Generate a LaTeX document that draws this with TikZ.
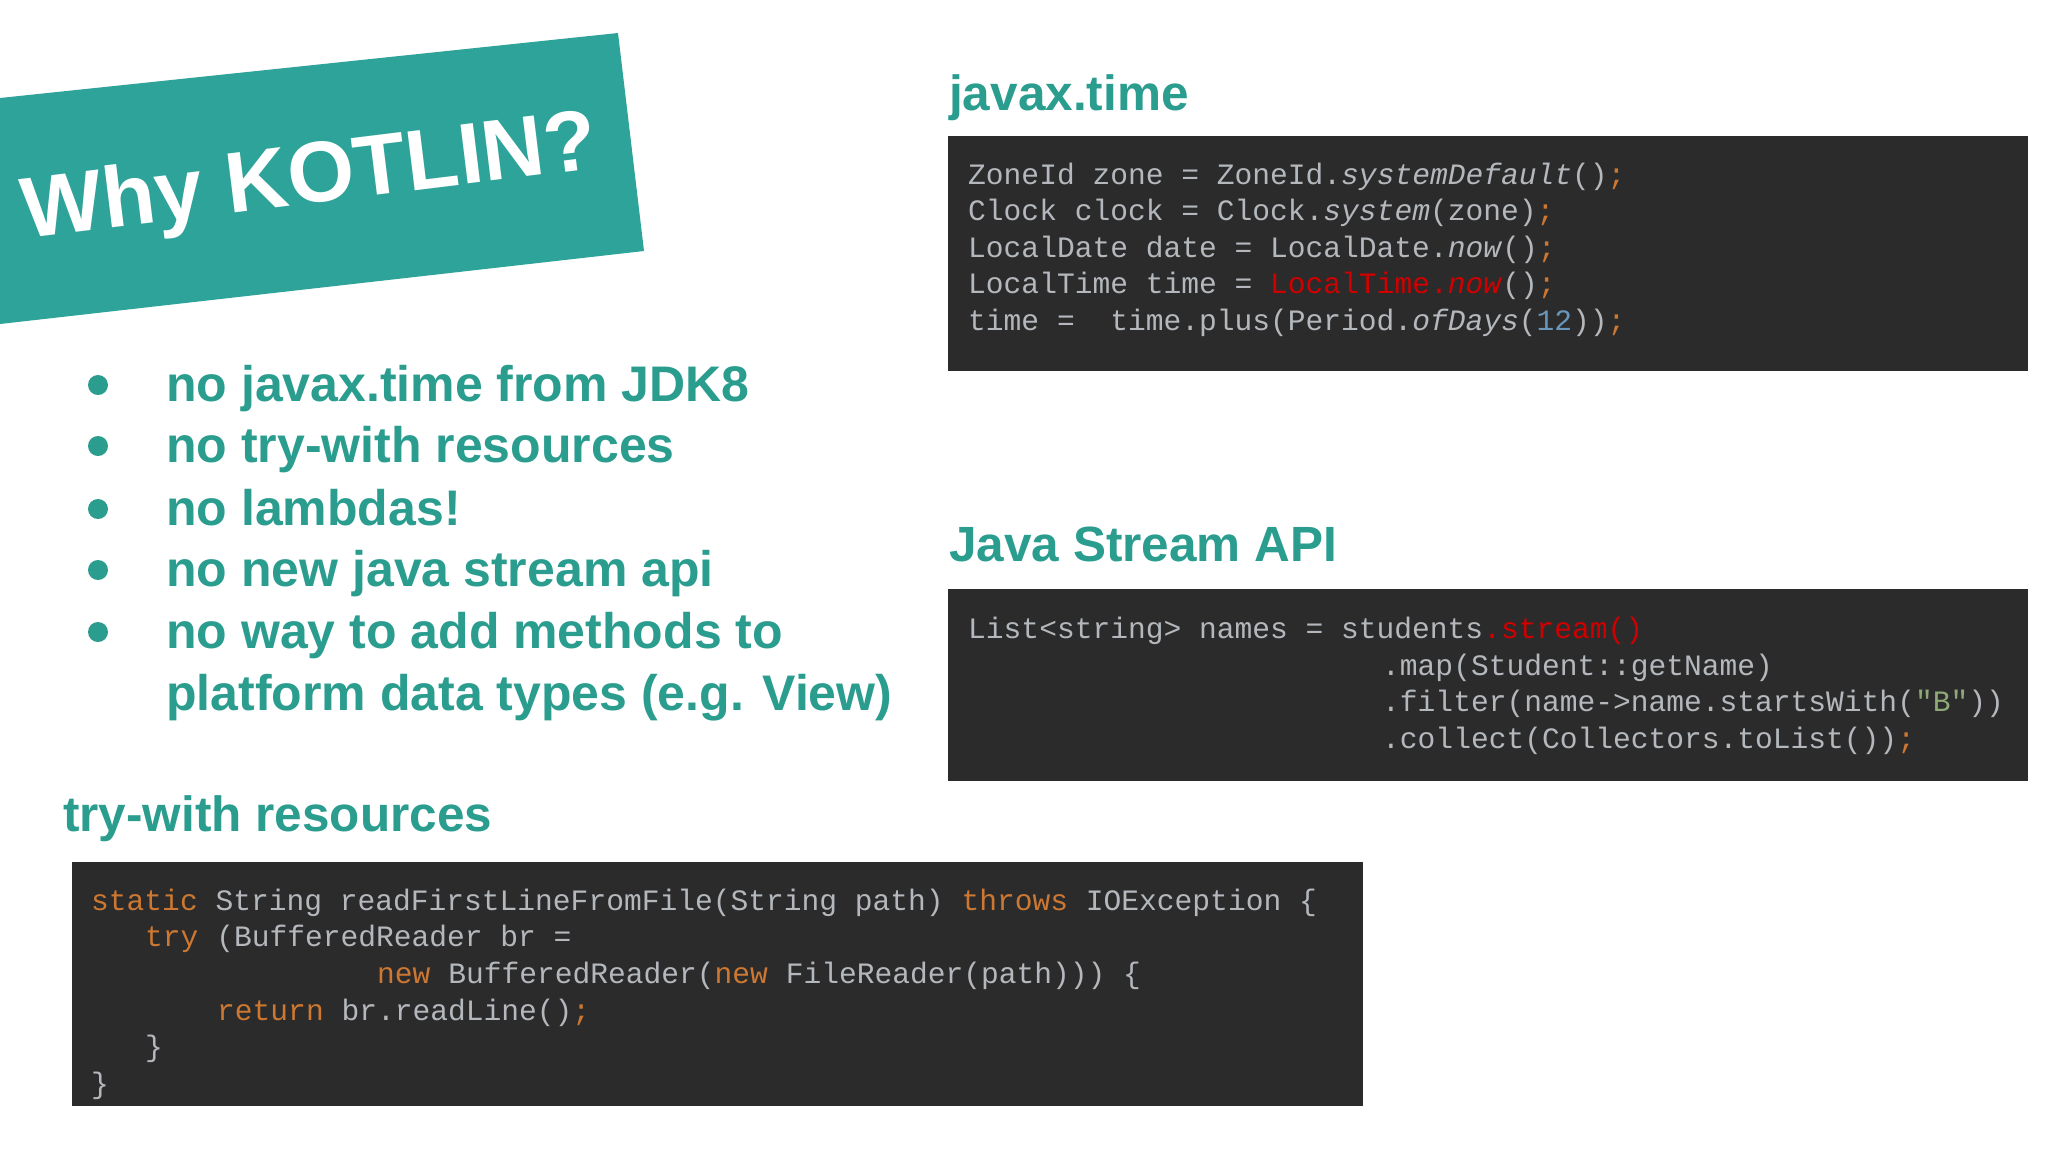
\documentclass[tikz,border=0pt]{standalone}
\usepackage{fontspec}
\setmainfont{Liberation Sans}
\newfontfamily\bannerfont{Liberation Sans}
\setmonofont{Liberation Mono}
\definecolor{teal1}{HTML}{2EA399}
\definecolor{tealtxt}{HTML}{2A9D8F}
\definecolor{codebg}{HTML}{2B2B2B}
\definecolor{codefg}{HTML}{B4B8BC}
\definecolor{kw}{HTML}{CC7832}
\definecolor{rd}{HTML}{D00000}
\definecolor{num}{HTML}{6897BB}
\definecolor{str}{HTML}{8FA878}
\begin{document}
\begin{tikzpicture}[x=1pt,y=-1pt,
  head/.style={anchor=base west,inner sep=0,text=tealtxt,font=\fontsize{49.5}{52}\selectfont\bfseries},
  bul/.style={anchor=base west,inner sep=0,text=tealtxt,font=\fontsize{50}{56}\selectfont\bfseries,align=left},
  code/.style={anchor=base west,inner sep=0,text=codefg,font=\fontsize{29.6}{30}\selectfont\ttfamily}]
\useasboundingbox (0,0) rectangle (2048,1152);
\fill[white] (0,0) rectangle (2048,1152);
\fill[teal1] (0,98) -- (618,33) -- (644,251) -- (0,324) -- cycle;
\node[text=white,rotate=7,font=\fontsize{86}{86}\selectfont\bannerfont\bfseries] (ban) at (310,181) {Why KOTLIN?};
% bullets
\foreach \y/\t [count=\i] in {401/no javax.time from JDK8,462/no try-with resources,525/no lambdas!,586/no new java stream api,648/no way to add methods to}{
  \fill[tealtxt] (98,\y-16) circle (10);
  \node[bul] (b\i) at (166,\y) {\t};
}
\node[bul] (b6) at (166,710) {platform data types (e.g. View)};
% headings
\node[head] (h1) at (949,110) {javax.time};
\node[head] (h2) at (949,561) {Java Stream API};
\node[head] (h3) at (63,831) {try-with resources};
% boxes
\fill[codebg] (948,136) rectangle (2028,371);
\fill[codebg] (948,589) rectangle (2028,781);
\fill[codebg] (72,862) rectangle (1363,1106);
% box1
\node[code] (c11) at (968,184) {ZoneId zone = ZoneId.\textit{systemDefault}()\textcolor{kw}{;}};
\node[code] (c12) at (968,220) {Clock clock = Clock.\textit{system}(zone)\textcolor{kw}{;}};
\node[code] (c13) at (968,257) {LocalDate date = LocalDate.\textit{now}()\textcolor{kw}{;}};
\node[code] (c14) at (968,293) {LocalTime time = \textcolor{rd}{LocalTime.\textit{now}}()\textcolor{kw}{;}};
\node[code] (c15) at (968,330) {time =~~time.plus(Period.\textit{ofDays}(\textcolor{num}{12}))\textcolor{kw}{;}};
% box2
\node[code] (c21) at (968,638) {List<string> names = students\textcolor{rd}{.stream()}};
\node[code] (c22) at (1382,675) {.map(Student::getName)};
\node[code] (c23) at (1382,711) {.filter(name->name.startsWith(\textcolor{str}{"B"}))};
\node[code] (c24) at (1382,748) {.collect(Collectors.toList())\textcolor{kw}{;}};
% box3
\node[code] (c31) at (91,910) {\textcolor{kw}{static} String readFirstLineFromFile(String path) \textcolor{kw}{throws} IOException \{};
\node[code] (c32) at (145,946) {\textcolor{kw}{try} (BufferedReader br =};
\node[code] (c33) at (377,983) {\textcolor{kw}{new} BufferedReader(\textcolor{kw}{new} FileReader(path))) \{};
\node[code] (c34) at (217,1020) {\textcolor{kw}{return} br.readLine()\textcolor{kw}{;}};
\node[code] (c35) at (145,1056) {\}};
\node[code] (c36) at (91,1093) {\}};
\end{tikzpicture}
\end{document}
